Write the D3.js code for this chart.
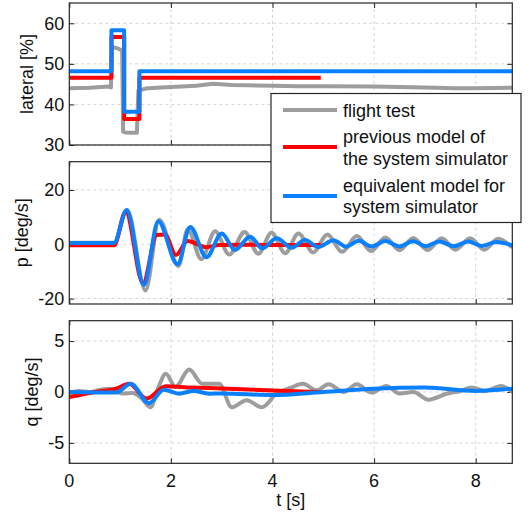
<!DOCTYPE html>
<html><head><meta charset="utf-8">
<script src="https://cdn.jsdelivr.net/npm/d3@7"></script>
<style>
html,body{margin:0;padding:0;background:#fff;}
svg{display:block;font-family:"Liberation Sans",Arial,sans-serif;}
</style></head>
<body>
<svg id="c" width="531" height="515"></svg>
<script>
// ---------- DATA ----------
const xTicks = [0, 2, 4, 6, 8];
const latTicks = [30, 40, 50, 60];
const pTicks = [-20, 0, 20];
const qTicks = [-5, 0, 5];

// lateral [%] — step inputs
const latStepTimes = [0, 0.83, 1.08, 1.38];
const latEquivLevels = [48.2, 58.3, 38.2, 48.2];
const latEquivEnd = 8.72;
const latPrevLevels = [46.6, 56.6, 36.4, 46.6];
const latPrevEnd = 4.95;
const latFlight = [[0,44],[0.4,44.1],[0.78,44.4],[0.82,44.2],[0.84,54.2],[0.95,53.8],[1.04,53.3],[1.06,33.3],[1.1,33.1],[1.33,33],[1.36,43.4],[1.5,43.9],[1.8,44.2],[2.2,44.4],[2.5,44.6],[2.83,45.1],[3.2,44.8],[3.5,44.7],[4.0,44.6],[4.5,44.5],[5.0,44.5],[6.0,44.4],[7.0,44.2],[7.6,44.0],[8.0,44.0],[8.72,44.1]];

// p [deg/s]
const pFlight = [[0,0.6],[0.88,0.6],[1.14,12.6],[1.5,-17],[1.77,9],[2.15,-8],[2.33,5.5],[2.6,-5.5],[2.87,4.8],[3.15,-3.8],[3.45,4.5],[3.72,-3.5],[3.98,4.2],[4.25,-3.3],[4.51,4],[4.8,-3],[5.08,3.6],[5.37,-2.8],[5.66,3],[5.94,-2.5],[6.22,2.5],[6.5,-2.2],[6.77,2.3],[7.05,-2.1],[7.33,2.2],[7.6,-2],[7.89,2.2],[8.17,-2],[8.44,2],[8.72,-1.2]];
const pPrev = [[0,-0.4],[0.88,-0.4],[1.11,12],[1.45,-14.4],[1.72,3.4],[1.88,3.6],[2.1,-4],[2.33,1.2],[2.7,-1.1],[2.95,-0.3],[3.5,-0.2],[4.2,-0.3],[4.95,-0.3]];
const pEquiv = [[0,0.5],[0.88,0.5],[1.13,12.6],[1.47,-15],[1.75,8.5],[2.13,-7.4],[2.38,6.4],[2.7,-4.8],[3.0,4],[3.26,-2.1],[3.56,2.8],[3.8,-1.5],[4.08,2.2],[4.38,-1.3],[4.64,1.6],[4.9,-1.0],[5.2,1.5],[5.45,-0.9],[5.7,1.3],[5.95,-0.8],[6.22,1.2],[6.5,-0.8],[6.77,1.1],[7.02,-0.7],[7.28,1.0],[7.57,-0.7],[7.85,1.0],[8.12,-0.6],[8.4,0.8],[8.72,-0.4]];

// q [deg/s]
const qFlight = [[0,-0.1],[0.2,0.1],[0.4,0.0],[0.6,0.2],[0.79,0.33],[0.95,0.0],[1.05,-0.15],[1.25,-0.1],[1.42,-0.6],[1.6,-1.5],[1.75,0.4],[1.9,1.8],[2.09,0.5],[2.36,2.2],[2.62,0.8],[2.95,0.8],[3.2,-1.5],[3.49,-0.8],[3.79,-1.5],[4.08,-0.16],[4.35,0.4],[4.6,0.8],[4.87,0.17],[5.1,0.75],[5.4,0.0],[5.66,0.75],[5.95,-0.06],[6.24,0.6],[6.5,-0.15],[6.77,0.0],[7.07,-0.75],[7.44,-0.15],[7.7,0.1],[7.92,0.45],[8.18,0.1],[8.5,0.6],[8.72,0.0]];
const qPrev = [[0,-0.5],[0.5,0.0],[0.92,0.33],[1.18,0.8],[1.52,-0.65],[1.9,0.56],[2.4,0.43],[3.0,0.35],[4.0,0.15],[4.97,0.0]];
const qEquiv = [[0,0.0],[0.92,-0.05],[1.21,0.8],[1.57,-1.1],[1.86,0.23],[2.16,-0.16],[2.45,0.1],[2.75,-0.16],[3.0,-0.15],[4.0,-0.3],[5.0,0.0],[6.0,0.33],[7.0,0.43],[8.0,0.1],[8.72,0.33]];

const legendLabels = [["flight test"],["previous model of","the system simulator"],["equivalent model for","system simulator"]];

// ---------- STYLE / LAYOUT ----------
const COL_GREY = "#9d9d9d", COL_RED = "#ff0000", COL_BLUE = "#0a80ff";
const LW = 4;
const X0 = 69.3, X1 = 512.3;
const svg = d3.select("#c");
const x = d3.scaleLinear().domain([0, 8.72]).range([X0, X1]);

function panel(y0, y1, dom, ticks, label, labelX, showX) {
  const y = d3.scaleLinear().domain(dom).range([y1, y0]);
  const g = svg.append("g");
  // grid
  g.selectAll(".gx").data(xTicks).join("line")
    .attr("x1", d => x(d)).attr("x2", d => x(d)).attr("y1", y0).attr("y2", y1)
    .attr("stroke", "#d4d4d4").attr("stroke-width", 1).attr("stroke-dasharray", "3,3");
  g.selectAll(".gy").data(ticks).join("line")
    .attr("y1", d => y(d)).attr("y2", d => y(d)).attr("x1", X0).attr("x2", X1)
    .attr("stroke", "#d4d4d4").attr("stroke-width", 1).attr("stroke-dasharray", "3,3");
  // axes (ticks inside)
  const ax = svg.append("g");
  ax.append("g").attr("transform", `translate(${X0},0)`)
    .call(d3.axisRight(y).tickValues(ticks).tickSize(5).tickFormat(""));
  ax.append("g").attr("transform", `translate(${X1},0)`)
    .call(d3.axisLeft(y).tickValues(ticks).tickSize(5).tickFormat(""));
  ax.append("g").attr("transform", `translate(0,${y1})`)
    .call(d3.axisTop(x).tickValues(xTicks).tickSize(5).tickFormat(""));
  ax.append("g").attr("transform", `translate(0,${y0})`)
    .call(d3.axisBottom(x).tickValues(xTicks).tickSize(5).tickFormat(""));
  ax.selectAll(".domain").remove();
  ax.selectAll("line").attr("stroke", "#262626");
  // tick labels
  svg.append("g").selectAll("text").data(ticks).join("text")
    .attr("x", X0 - 5).attr("y", d => y(d)).attr("dy", "0.35em")
    .attr("text-anchor", "end").attr("font-size", 18).attr("fill", "#111")
    .text(d => d);
  if (showX) {
    svg.append("g").selectAll("text").data(xTicks).join("text")
      .attr("x", d => x(d)).attr("y", y1 + 23.5)
      .attr("text-anchor", "middle").attr("font-size", 18).attr("fill", "#111")
      .text(d => d);
  }
  svg.append("text").attr("transform", `translate(${labelX},${(y0 + y1) / 2}) rotate(-90)`)
    .attr("text-anchor", "middle").attr("font-size", 18).attr("fill", "#111").text(label);
  return y;
}

function frame(y0, y1) {
  svg.append("rect").attr("x", X0).attr("y", y0).attr("width", X1 - X0).attr("height", y1 - y0)
    .attr("fill", "none").attr("stroke", "#262626").attr("stroke-width", 1.2);
}

function drawLine(data, y, col, curve, clipId) {
  svg.append("path").datum(data)
    .attr("fill", "none").attr("stroke", col).attr("stroke-width", LW)
    .attr("stroke-linejoin", "round").attr("stroke-linecap", "butt")
    .attr("clip-path", `url(#${clipId})`)
    .attr("d", d3.line().x(d => x(d[0])).y(d => y(d[1])).curve(curve));
}

function clip(id, y0, y1) {
  svg.append("clipPath").attr("id", id).append("rect")
    .attr("x", X0).attr("y", y0).attr("width", X1 - X0).attr("height", y1 - y0);
}

// Panel 1
const P1 = [3, 145], P2 = [161.7, 304], P3 = [320.7, 463.3];
clip("c1", P1[0], P1[1]); clip("c2", P2[0], P2[1]); clip("c3", P3[0], P3[1]);

const y1 = panel(P1[0], P1[1], [30, 65], latTicks, "lateral [%]", 33, false);
const stepData = (levels, end) => latStepTimes.map((t, i) => [t, levels[i]]).concat([[end, levels[levels.length - 1]]]);
drawLine(latFlight, y1, COL_GREY, d3.curveLinear, "c1");
drawLine(stepData(latPrevLevels, latPrevEnd), y1, COL_RED, d3.curveStepAfter, "c1");
drawLine(stepData(latEquivLevels, latEquivEnd), y1, COL_BLUE, d3.curveStepAfter, "c1");
frame(P1[0], P1[1]);

const y2 = panel(P2[0], P2[1], [-22, 30.4], pTicks, "p [deg/s]", 28, false);
drawLine(pFlight, y2, COL_GREY, d3.curveMonotoneX, "c2");
drawLine(pPrev, y2, COL_RED, d3.curveMonotoneX, "c2");
drawLine(pEquiv, y2, COL_BLUE, d3.curveMonotoneX, "c2");
frame(P2[0], P2[1]);

const y3 = panel(P3[0], P3[1], [-7, 7], qTicks, "q [deg/s]", 38, true);
drawLine(qFlight, y3, COL_GREY, d3.curveMonotoneX, "c3");
drawLine(qPrev, y3, COL_RED, d3.curveMonotoneX, "c3");
drawLine(qEquiv, y3, COL_BLUE, d3.curveMonotoneX, "c3");
frame(P3[0], P3[1]);

svg.append("text").attr("x", (X0 + X1) / 2).attr("y", 506).attr("text-anchor", "middle")
  .attr("font-size", 18).attr("fill", "#111").text("t [s]");

// Legend
const lg = svg.append("g");
lg.append("rect").attr("x", 271).attr("y", 93.5).attr("width", 250).attr("height", 129)
  .attr("fill", "#fff").attr("stroke", "#262626").attr("stroke-width", 1.2);
const legCols = [COL_GREY, COL_RED, COL_BLUE];
const legLineY = [110, 147, 196];
const legTextY = [[116.5], [143, 165], [191.5, 213]];
legendLabels.forEach((lines, i) => {
  lg.append("line").attr("x1", 283).attr("x2", 337).attr("y1", legLineY[i]).attr("y2", legLineY[i])
    .attr("stroke", legCols[i]).attr("stroke-width", LW);
  lines.forEach((t, j) => {
    lg.append("text").attr("x", 343).attr("y", legTextY[i][j]).attr("font-size", 18)
      .attr("fill", "#111").text(t);
  });
});
</script>
</body></html>
